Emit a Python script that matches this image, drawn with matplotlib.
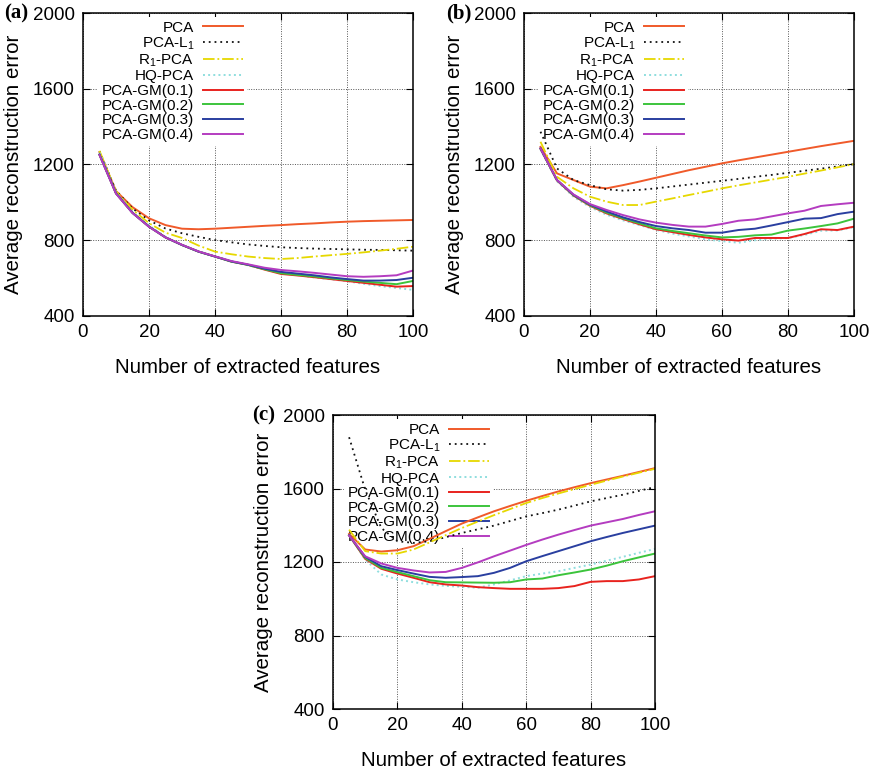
import numpy as np
import matplotlib
matplotlib.use('Agg')
import matplotlib.pyplot as plt

plt.rcParams.update({'font.family': ['Liberation Sans', 'DejaVu Sans'], 'mathtext.default': 'regular'})

feats = [5, 10, 15, 20, 25, 30, 35, 40, 45, 50, 55, 60, 65, 70, 75, 80, 85, 90, 95, 100]
names = ['PCA', 'PCA-L$_1$', 'R$_1$-PCA', 'HQ-PCA', 'PCA-GM(0.1)', 'PCA-GM(0.2)', 'PCA-GM(0.3)', 'PCA-GM(0.4)']

# panel (a)
a_pca   = [1265, 1060, 975, 916, 880, 861, 858, 861, 866, 871, 876, 880, 885, 889, 894, 898, 901, 903, 905, 907]
a_l1    = [1270, 1062, 968, 905, 862, 837, 818, 801, 789, 778, 770, 763, 759, 756, 754, 752, 750, 749, 747, 745]
a_r1    = [1272, 1058, 962, 890, 840, 812, 772, 740, 726, 714, 706, 701, 706, 714, 721, 728, 736, 745, 755, 766]
a_hq    = [1262, 1052, 950, 878, 818, 775, 742, 714, 690, 668, 646, 627, 616, 604, 594, 584, 570, 558, 548, 538]
a_gm1   = [1252, 1048, 945, 872, 815, 775, 740, 714, 687, 670, 645, 622, 614, 605, 595, 585, 575, 565, 555, 558]
a_gm2   = [1252, 1048, 945, 872, 815, 775, 740, 714, 687, 670, 647, 626, 617, 609, 599, 590, 582, 575, 568, 585]
a_gm3   = [1252, 1048, 945, 872, 815, 775, 740, 714, 688, 671, 650, 633, 624, 615, 604, 595, 587, 587, 590, 602]
a_gm4   = [1250, 1046, 944, 871, 815, 776, 741, 715, 690, 673, 655, 643, 636, 628, 619, 610, 607, 610, 615, 640]

# panel (b)
b_pca   = [1293, 1153, 1118, 1083, 1074, 1091, 1110, 1130, 1150, 1170, 1188, 1206, 1222, 1237, 1252, 1267, 1282, 1297, 1311, 1325]
b_l1    = [1373, 1179, 1118, 1091, 1069, 1062, 1066, 1074, 1084, 1094, 1104, 1114, 1124, 1135, 1145, 1156, 1167, 1178, 1190, 1202]
b_r1    = [1320, 1135, 1074, 1030, 1004, 986, 986, 1004, 1021, 1039, 1056, 1074, 1090, 1105, 1120, 1135, 1152, 1168, 1185, 1202]
b_hq    = [1280, 1112, 1030, 975, 935, 905, 880, 855, 835, 820, 805, 795, 787, 800, 808, 812, 828, 850, 852, 870]
b_gm1   = [1283, 1116, 1036, 982, 942, 912, 884, 858, 843, 828, 815, 805, 798, 812, 812, 812, 833, 858, 854, 872]
b_gm2   = [1284, 1117, 1038, 985, 946, 916, 889, 863, 849, 837, 825, 815, 818, 826, 830, 851, 862, 875, 889, 914]
b_gm3   = [1285, 1118, 1040, 988, 952, 921, 896, 875, 863, 854, 840, 840, 854, 861, 878, 896, 914, 917, 938, 951]
b_gm4   = [1285, 1118, 1042, 991, 960, 933, 910, 893, 881, 872, 872, 886, 903, 910, 926, 942, 956, 981, 990, 998]

# panel (c)
c_pca   = [1353, 1268, 1257, 1264, 1286, 1326, 1368, 1409, 1443, 1476, 1505, 1533, 1559, 1584, 1607, 1629, 1649, 1669, 1690, 1711]
c_l1    = [1879, 1593, 1385, 1313, 1304, 1313, 1335, 1358, 1378, 1398, 1423, 1448, 1466, 1485, 1507, 1530, 1548, 1566, 1587, 1608]
c_r1    = [1376, 1259, 1246, 1246, 1268, 1307, 1346, 1385, 1420, 1455, 1488, 1521, 1548, 1573, 1597, 1620, 1643, 1665, 1686, 1707]
c_hq    = [1349, 1213, 1132, 1105, 1090, 1078, 1070, 1065, 1060, 1078, 1100, 1123, 1137, 1150, 1168, 1186, 1207, 1228, 1250, 1271]
c_gm1   = [1345, 1217, 1163, 1137, 1114, 1090, 1078, 1072, 1063, 1058, 1054, 1054, 1054, 1058, 1069, 1092, 1096, 1096, 1105, 1123]
c_gm2   = [1345, 1222, 1168, 1145, 1123, 1101, 1090, 1089, 1088, 1087, 1090, 1105, 1110, 1128, 1143, 1159, 1180, 1204, 1225, 1246]
c_gm3   = [1345, 1228, 1177, 1156, 1137, 1119, 1114, 1118, 1123, 1141, 1168, 1204, 1232, 1259, 1286, 1313, 1336, 1358, 1378, 1398]
c_gm4   = [1344, 1231, 1192, 1168, 1154, 1143, 1146, 1168, 1198, 1231, 1262, 1293, 1322, 1349, 1374, 1398, 1416, 1434, 1456, 1476]

styles = [dict(color='#f05a2a', ls='-', lw=1.4),
          dict(color='#111111', ls=(0, (1, 2.2)), lw=1.3),
          dict(color='#e6d800', ls='-.', lw=1.3),
          dict(color='#8fdede', ls=':', lw=1.4),
          dict(color='#e8231e', ls='-', lw=1.4),
          dict(color='#3cc43c', ls='-', lw=1.4),
          dict(color='#2a3fa0', ls='-', lw=1.4),
          dict(color='#b43cc0', ls='-', lw=1.4)]

fig = plt.figure(figsize=(8.78, 7.73), dpi=100)
W, H = 878, 773

def panel(rect, series, tag, tagpos):
    l, t, r, b = rect
    ax = fig.add_axes([l / W, 1 - b / H, (r - l) / W, (b - t) / H])
    for y, name, st in zip(series, names, styles):
        ax.plot(feats, y, label=name, zorder=3, **st)
    ax.set_xlim(0, 100); ax.set_ylim(400, 2000)
    ax.set_xticks([0, 20, 40, 60, 80, 100]); ax.set_yticks([400, 800, 1200, 1600, 2000])
    ax.grid(True, color='#555555', ls=(0, (1, 1.5)), lw=0.7)
    ax.tick_params(direction='in', top=True, right=True, labelsize=13.5, pad=6, length=5)
    for s in ax.spines.values():
        s.set_linewidth(1.1)
        s.set_zorder(4)
    ax.set_xlabel('Number of extracted features', fontsize=14.8, labelpad=12)
    ax.set_ylabel('Average reconstruction error', fontsize=14.8, labelpad=7)
    leg = ax.legend(loc='upper right', bbox_to_anchor=(0.52, 1.012), markerfirst=False, fontsize=11,
                    handlelength=2.6, handletextpad=0.6, labelspacing=0.04, borderpad=0.25,
                    frameon=True, fancybox=False, framealpha=1, edgecolor='none', facecolor='white')
    leg.set_zorder(2)
    fig.text(tagpos[0] / W, 1 - tagpos[1] / H, tag, fontsize=15, fontweight='bold',
             family='Liberation Serif', ha='left', va='center')
    return ax

panel((83, 13, 413, 316), [a_pca, a_l1, a_r1, a_hq, a_gm1, a_gm2, a_gm3, a_gm4], '(a)', (4, 13))
panel((524, 13, 854, 316), [b_pca, b_l1, b_r1, b_hq, b_gm1, b_gm2, b_gm3, b_gm4], '(b)', (446, 13))
panel((333, 415, 655, 709), [c_pca, c_l1, c_r1, c_hq, c_gm1, c_gm2, c_gm3, c_gm4], '(c)', (252, 415))

plt.savefig('out.png', dpi=100)
